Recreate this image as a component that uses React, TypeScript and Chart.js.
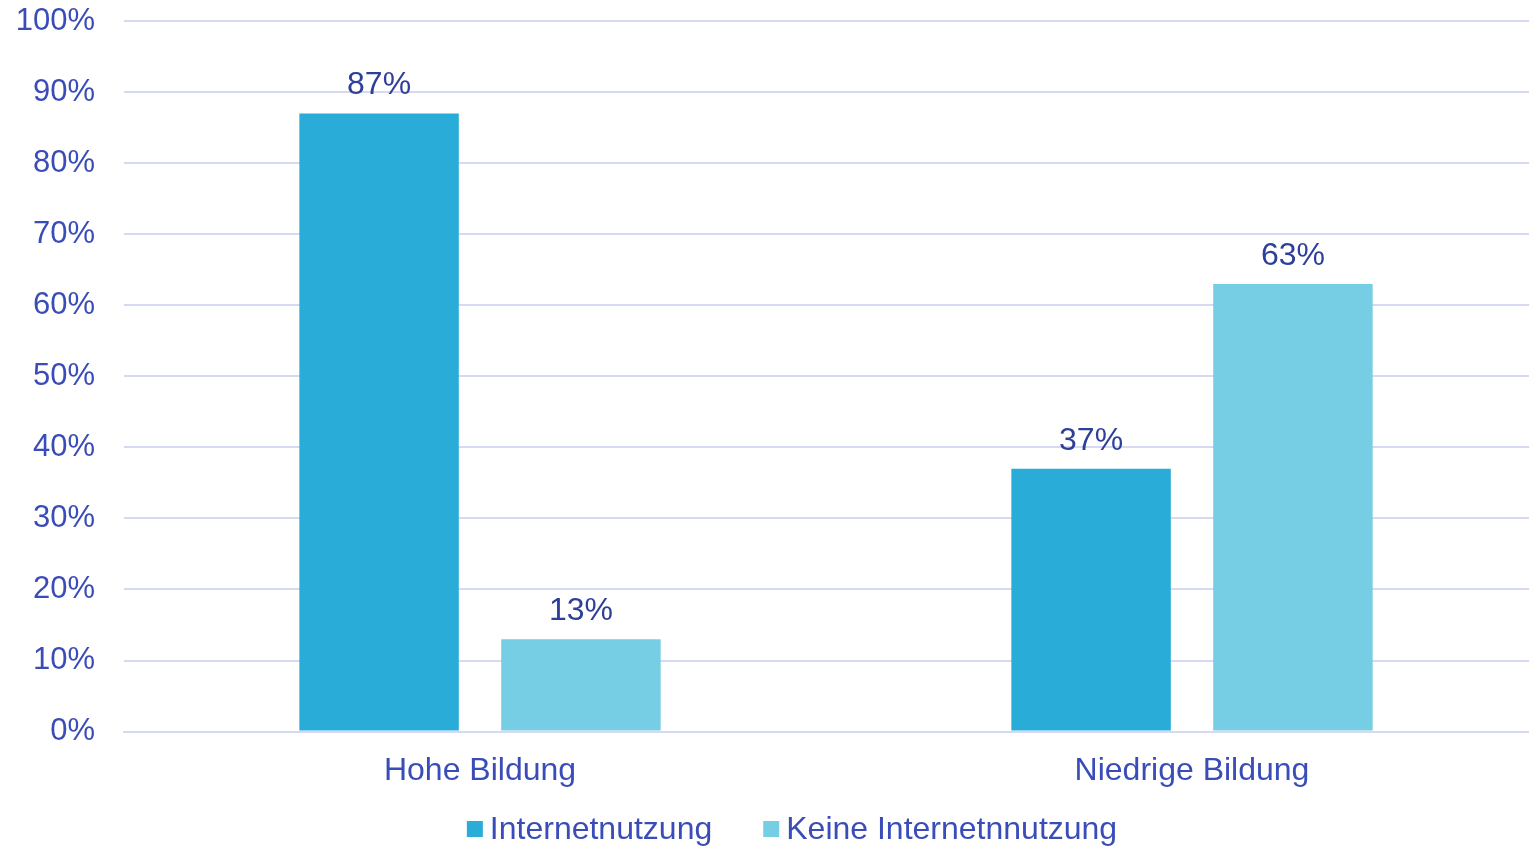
import React, { useEffect, useRef } from "react";
import { Chart, registerables } from "chart.js";

Chart.register(...registerables);

const categories = ["Hohe Bildung", "Niedrige Bildung"];
const internetnutzung = [87, 37];
const keineInternetnutzung = [13, 63];
const seriesNames = ["Internetnutzung", "Keine Internetnnutzung"];
const seriesColors = ["#2aacd8", "#76cee4"];
const yTicks = [0, 10, 20, 30, 40, 50, 60, 70, 80, 90, 100];

const FONT = "'Liberation Sans', Arial, sans-serif";
const TEXT = "#3a4cb8";

const labelPlugin = {
  id: "barLabels",
  afterDatasetsDraw(chart: any) {
    const ctx = chart.ctx;
    ctx.save();
    ctx.font = `32px ${FONT}`;
    ctx.fillStyle = "#2e3f9a";
    ctx.textAlign = "center";
    ctx.textBaseline = "alphabetic";
    chart.data.datasets.forEach((ds: any, i: number) => {
      const meta = chart.getDatasetMeta(i);
      meta.data.forEach((bar: any, j: number) => {
        ctx.fillText(ds.data[j] + "%", bar.x, bar.y - 19);
      });
    });
    ctx.restore();
  },
};

const legendPlugin = {
  id: "customLegend",
  afterDraw(chart: any) {
    const ctx = chart.ctx;
    ctx.save();
    ctx.font = `32px ${FONT}`;
    ctx.textBaseline = "middle";
    ctx.textAlign = "left";
    const box = 16;
    const gapText = 7;
    const gapItem = 51;
    const items = chart.data.datasets.map((ds: any) => ({
      label: ds.label,
      color: ds.backgroundColor,
      w: box + gapText + ctx.measureText(ds.label).width,
    }));
    const total = items.reduce((s: number, it: any) => s + it.w, 0) + gapItem * (items.length - 1);
    const cy = 830;
    let x = 792 - total / 2;
    items.forEach((it: any) => {
      ctx.fillStyle = it.color;
      ctx.fillRect(x, cy - box / 2 - 1, box, box);
      ctx.fillStyle = TEXT;
      ctx.fillText(it.label, x + box + gapText, cy);
      x += it.w + gapItem;
    });
    ctx.restore();
  },
};

export default function App() {
  const ref = useRef<HTMLCanvasElement>(null);
  useEffect(() => {
    document.body.style.margin = "0";
    document.body.style.overflow = "hidden";
    const chart = new Chart(ref.current!, {
      type: "bar",
      data: {
        labels: categories,
        datasets: [
          {
            label: seriesNames[0],
            data: internetnutzung,
            backgroundColor: seriesColors[0],
            categoryPercentage: 0.567,
            barPercentage: 0.79,
          },
          {
            label: seriesNames[1],
            data: keineInternetnutzung,
            backgroundColor: seriesColors[1],
            categoryPercentage: 0.567,
            barPercentage: 0.79,
          },
        ],
      },
      options: {
        animation: false,
        responsive: false,
        layout: { padding: { left: 14, right: 0, top: 21, bottom: 36 } },
        plugins: {
          tooltip: { enabled: false },
          legend: { display: false },
        },
        scales: {
          x: {
            grid: { display: false, drawTicks: false },
            border: { display: true, color: "#d5d9f2", width: 2 },
            ticks: {
              color: TEXT,
              padding: 20,
              font: { family: FONT, size: 32 },
            },
          },
          y: {
            min: 0,
            max: 100,
            afterBuildTicks(scale: any) {
              scale.ticks = yTicks.map((v) => ({ value: v }));
            },
            afterFit(scale: any) {
              scale.width = 110;
              scale.paddingTop = 0;
              scale.paddingBottom = 0;
            },
            grid: { color: "#d5d9f2", lineWidth: 2, drawTicks: false },
            border: { display: false },
            ticks: {
              color: TEXT,
              padding: 29,
              font: { family: FONT, size: 31 },
              callback: (v: any) => v + "%",
            },
          },
        },
      },
      plugins: [labelPlugin, legendPlugin],
    });
    return () => chart.destroy();
  }, []);
  return (
    <div style={{ position: "fixed", left: 0, top: 0, width: 1529, height: 846, overflow: "hidden" }}>
      <canvas ref={ref} width={1548} height={846} style={{ display: "block" }} />
    </div>
  );
}
